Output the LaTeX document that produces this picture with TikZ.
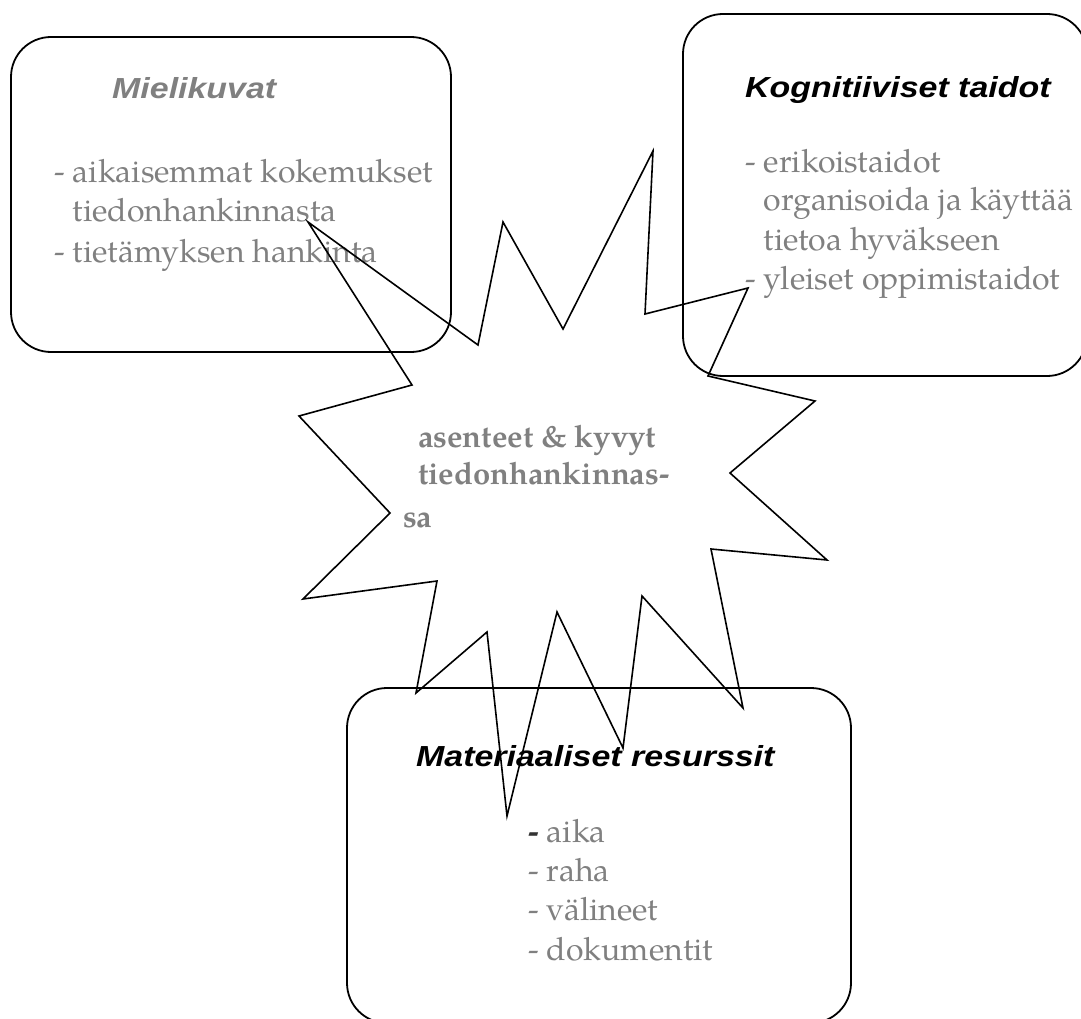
\documentclass[tikz,border=0pt]{standalone}
\usepackage{fontspec}
\newfontfamily\headfont[FakeStretch=1.17]{Liberation Sans}
\newfontfamily\palfont{TeX Gyre Pagella}
\definecolor{txtgray}{RGB}{128,128,128}
\tikzset{
  roundbox/.style={draw=black, line width=1.8pt, rounded corners=40pt, inner sep=0pt},
  headtxt/.style={anchor=base west, inner sep=0pt, font=\headfont\bfseries\itshape\fontsize{29}{35}\selectfont},
  bodytxt/.style={anchor=base west, inner sep=0pt, text=txtgray, font=\palfont\fontsize{32}{38}\selectfont},
  centretxt/.style={anchor=base west, inner sep=0pt, text=txtgray, font=\palfont\bfseries\fontsize{31}{36}\selectfont},
  starline/.style={draw=black, line width=1.6pt}
}
\begin{document}
\begin{tikzpicture}[x=1pt,y=-1pt]
\useasboundingbox (0,0) rectangle (1081,1019);
% boxes
\node[roundbox, minimum width=440pt, minimum height=315pt] (mieli) at (231,194.5) {};
\node[roundbox, minimum width=404pt, minimum height=362pt] (kogn) at (885,195) {};
\node[roundbox, minimum width=504pt, minimum height=335pt] (mat) at (599,855.5) {};
% Mielikuvat
\node[headtxt, text=txtgray] (mh) at (112,99) {Mielikuvat};
\node[bodytxt] (m1) at (54,183) {- aikaisemmat kokemukset};
\node[bodytxt] (m2) at (54,222) {\phantom{- }tiedonhankinnasta};
\node[bodytxt] (m3) at (54,262) {- tietämyksen hankinta};
% Kognitiiviset
\node[headtxt, text=black] (kh) at (745,98) {Kognitiiviset taidot};
\node[bodytxt] (k1) at (745,173) {- erikoistaidot};
\node[bodytxt] (k2) at (745,211) {\phantom{- }organisoida ja käyttää};
\node[bodytxt] (k3) at (745,250) {\phantom{- }tietoa hyväkseen};
\node[bodytxt] (k4) at (745,289) {- yleiset oppimistaidot};
% centre
\node[centretxt] (c1) at (418,447) {asenteet \& kyvyt};
\node[centretxt] (c2) at (418,484) {tiedonhankinnas-};
\node[centretxt] (c3) at (403,527) {sa};
% Materiaaliset
\node[headtxt, text=black] (mth) at (416,766) {Materiaaliset resurssit};
\node[bodytxt] (r1) at (528,842) {{\color{black!80}\bfseries\upshape -} aika};
\node[bodytxt] (r2) at (528,881) {- raha};
\node[bodytxt] (r3) at (528,920) {- välineet};
\node[bodytxt] (r4) at (528,960) {- dokumentit};
% star
\draw[starline] (308,222) -- (478,345) -- (503,222) -- (563,329) -- (653,151)
  -- (645,314) -- (748,288) -- (708,376) -- (815,401) -- (730,473)
  -- (827,560) -- (711,549) -- (743,708) -- (642,596) -- (623,748)
  -- (557,612) -- (507,816) -- (487,632) -- (416,693) -- (437,581)
  -- (303,599) -- (390,513) -- (299,416) -- (412,385) -- cycle;
\end{tikzpicture}
\end{document}
